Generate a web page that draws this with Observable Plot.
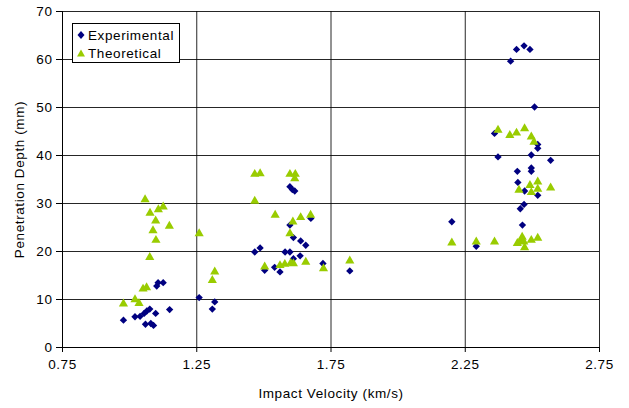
<!DOCTYPE html>
<html>
<head>
<meta charset="utf-8">
<script src="https://cdn.jsdelivr.net/npm/d3@7"></script>
<script src="https://cdn.jsdelivr.net/npm/@observablehq/plot@0.6"></script>
<style>
  html, body { margin: 0; padding: 0; background: #fff; }
  #wrap { position: relative; width: 629px; height: 408px; font-family: "Liberation Sans", Arial, sans-serif; }
  #legend {
    position: absolute; left: 72px; top: 23px; width: 106px; height: 38px;
    border: 1px solid #000; background: #fff;
    font-size: 13.5px; letter-spacing: 0.6px; color: #000;
  }
  #legend .row { position: absolute; left: 4px; height: 18px; display: flex; align-items: center; }
  #legend svg { margin-right: 3px; }
</style>
</head>
<body>
<div id="wrap"></div>
<script>
// Impact velocity (km/s) and penetration depth (mm)
const expVelocity = [
  0.977, 1.020, 1.039, 1.054, 1.064, 1.075, 1.097, 1.059, 1.079, 1.089, 1.149, 1.101, 1.106, 1.125,
  1.259, 1.308, 1.317,
  1.466, 1.486, 1.503, 1.540, 1.560, 1.579, 1.597, 1.610, 1.635, 1.597, 1.610, 1.637, 1.656,
  1.597, 1.606, 1.615, 1.675, 1.720, 1.820,
  2.200, 2.291, 2.359, 2.372, 2.419, 2.441, 2.469, 2.491, 2.508, 2.520, 2.520, 2.496, 2.568,
  2.444, 2.496, 2.496, 2.446, 2.471, 2.520, 2.469, 2.455, 2.463
];
const expDepth = [
  5.7, 6.4, 6.5, 7.1, 7.6, 8.0, 7.1, 4.85, 5.0, 4.6, 7.9, 12.8, 13.5, 13.5,
  10.4, 8.0, 9.5,
  19.9, 20.75, 16.1, 16.7, 15.75, 19.9, 19.9, 18.5, 19.1, 25.5, 22.9, 22.2, 21.3,
  33.5, 32.9, 32.6, 26.9, 17.5, 15.95,
  26.2, 21.1, 44.6, 39.7, 59.65, 62.1, 62.85, 62.1, 50.1, 42.3, 41.5, 40.1, 39.0,
  36.7, 37.4, 36.7, 34.4, 32.6, 31.7, 29.8, 28.9, 25.5
];
const theoVelocity = [
  0.977, 1.020, 1.035, 1.050, 1.063, 1.075, 1.098, 1.087, 1.097, 1.148, 1.076, 1.107, 1.125, 1.0575,
  1.259, 1.308, 1.317, 1.466, 1.486, 1.466, 1.503, 1.542, 1.560, 1.578, 1.597, 1.600, 1.610,
  1.597, 1.617, 1.615, 1.608, 1.637, 1.674, 1.656, 1.722, 1.820,
  2.200, 2.291, 2.359, 2.444, 2.456, 2.462, 2.468, 2.471, 2.496, 2.520,
  2.372, 2.416, 2.441, 2.471, 2.496, 2.506, 2.491, 2.520, 2.450, 2.496, 2.520, 2.568
];
const theoDepth = [
  9.1, 10.0, 9.2, 12.2, 12.5, 18.8, 22.35, 24.35, 26.4, 25.3, 28.0, 28.75, 29.3, 30.8,
  23.75, 14.0, 15.75, 36.1, 36.25, 30.5, 16.8, 27.6, 17.1, 17.35, 23.75, 17.6, 17.5,
  36.1, 36.1, 35.2, 26.2, 27.1, 27.6, 17.8, 16.45, 18.05,
  21.8, 22.0, 22.0, 21.7, 22.2, 23.0, 22.0, 20.8, 22.35, 22.8,
  45.3, 44.2, 44.7, 45.6, 43.9, 42.8, 33.8, 34.5, 32.8, 32.3, 33.0, 33.25
];
const xTicks = [0.75, 1.25, 1.75, 2.25, 2.75];
const yTicks = [0, 10, 20, 30, 40, 50, 60, 70];
const seriesNames = ["Experimental", "Theoretical"];
const seriesColors = ["#000080", "#99CC00"];

const experimental = expVelocity.map((v, i) => ({velocity: v, depth: expDepth[i]}));
const theoretical = theoVelocity.map((v, i) => ({velocity: v, depth: theoDepth[i]}));

const chart = Plot.plot({
  width: 629,
  height: 408,
  marginLeft: 62,
  marginRight: 30,
  marginTop: 11,
  marginBottom: 61,
  style: {fontFamily: "'Liberation Sans', Arial, sans-serif", fontSize: "13.5px", letterSpacing: "0.6px", color: "#000", background: "#fff"},
  x: {domain: [0.75, 2.75]},
  y: {domain: [0, 70]},
  marks: [
    Plot.gridX(xTicks, {stroke: "#000", strokeOpacity: 0.85}),
    Plot.gridY(yTicks, {stroke: "#000", strokeOpacity: 0.85}),
    Plot.axisX(xTicks, {
      tickFormat: d3.format(".2f"), tickSize: 5, tickPadding: 7,
      label: "Impact Velocity (km/s)", labelAnchor: "center", labelArrow: "none", labelOffset: 50
    }),
    Plot.axisY(yTicks, {
      tickSize: 6, tickPadding: 4,
      label: "Penetration Depth (mm)", labelAnchor: "center", labelArrow: "none", labelOffset: 48
    }),
    Plot.ruleX([0.75], {stroke: "#000"}),
    Plot.ruleY([0], {stroke: "#000"}),
    Plot.dot(experimental, {x: "velocity", y: "depth", symbol: "diamond2", r: 3.3, fill: seriesColors[0], stroke: "none"}),
    Plot.dot(theoretical, {x: "velocity", y: "depth", symbol: "triangle", r: 3.4, fill: seriesColors[1], stroke: "none"})
  ]
});

const wrap = document.getElementById("wrap");
wrap.appendChild(chart);

// Legend box overlaid on the plot area
const legend = document.createElement("div");
legend.id = "legend";
const shapes = [
  '<svg width="8" height="10"><path d="M4,1L7.5,5L4,9L0.5,5Z" fill="' + seriesColors[0] + '"/></svg>',
  '<svg width="8" height="10"><path d="M4,1.5L8,8.5L0,8.5Z" fill="' + seriesColors[1] + '"/></svg>'
];
seriesNames.forEach((name, i) => {
  const row = document.createElement("div");
  row.className = "row";
  row.style.top = (2 + i * 18) + "px";
  row.innerHTML = shapes[i] + "<span>" + name + "</span>";
  legend.appendChild(row);
});
wrap.appendChild(legend);
</script>
</body>
</html>
